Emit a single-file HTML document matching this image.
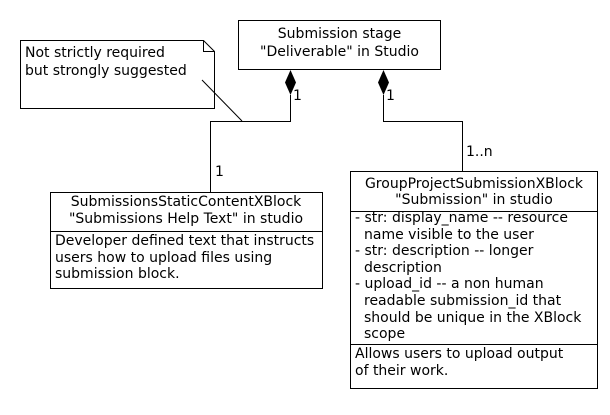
<!DOCTYPE html>
<html><head><style>
html,body{margin:0;padding:0;background:#fff;}
svg text{font-family:"DejaVu Sans","Liberation Sans",sans-serif;font-size:14px;fill:#000;}
</style></head><body>
<svg width="610" height="410" viewBox="0 0 610 410" xmlns="http://www.w3.org/2000/svg">
<rect width="610" height="410" fill="#fff"/>
<g fill="none" stroke="#000" stroke-width="1">
<rect x="238.5" y="20.5" width="202" height="49"/>
<path d="M20.5 40.5 H203.5 L214.5 51.5 V108.5 H20.5 Z"/>
<path d="M203.5 40.5 V51.5 H214.5"/>
<line x1="202" y1="80" x2="242" y2="121"/>
<path d="M290.5 95 V121.5 H210.5 V193"/>
<path d="M383.5 95 V121.5 H462.5 V171"/>
<rect x="50.5" y="192.5" width="272" height="96"/>
<line x1="50" y1="231.5" x2="322" y2="231.5"/>
<rect x="350.5" y="171.5" width="247" height="217"/>
<line x1="350" y1="211.5" x2="597" y2="211.5"/>
<line x1="350" y1="344.5" x2="597" y2="344.5"/>
</g>
<path d="M290.5 70 L296 82.5 L290.5 95 L285 82.5 Z" fill="#000"/>
<path d="M383.5 70 L389 82.5 L383.5 95 L378 82.5 Z" fill="#000"/>
<text x="339.5" y="38" text-anchor="middle">Submission stage</text>
<text x="339.5" y="56" text-anchor="middle">"Deliverable" in Studio</text>
<text x="25" y="57">Not strictly required</text>
<text x="25" y="75">but strongly suggested</text>
<text x="293" y="100">1</text>
<text x="386" y="100">1</text>
<text x="215" y="176">1</text>
<text x="466" y="156">1..n</text>
<text x="186" y="206" text-anchor="middle">SubmissionsStaticContentXBlock</text>
<text x="186" y="223" text-anchor="middle">"Submissions Help Text" in studio</text>
<text x="55" y="245">Developer defined text that instructs</text>
<text x="55" y="262">users how to upload files using</text>
<text x="55" y="278">submission block.</text>
<text x="474" y="188" text-anchor="middle">GroupProjectSubmissionXBlock</text>
<text x="474" y="204" text-anchor="middle">"Submission" in studio</text>
<text x="355" y="222">- str: display_name -- resource</text>
<text x="364" y="239">name visible to the user</text>
<text x="355" y="255">- str: description -- longer</text>
<text x="364" y="272">description</text>
<text x="355" y="288">- upload_id -- a non human</text>
<text x="364" y="305">readable submission_id that</text>
<text x="364" y="322">should be unique in the XBlock</text>
<text x="364" y="338">scope</text>
<text x="355" y="358">Allows users to upload output</text>
<text x="355" y="375">of their work.</text>
</svg>
</body></html>
